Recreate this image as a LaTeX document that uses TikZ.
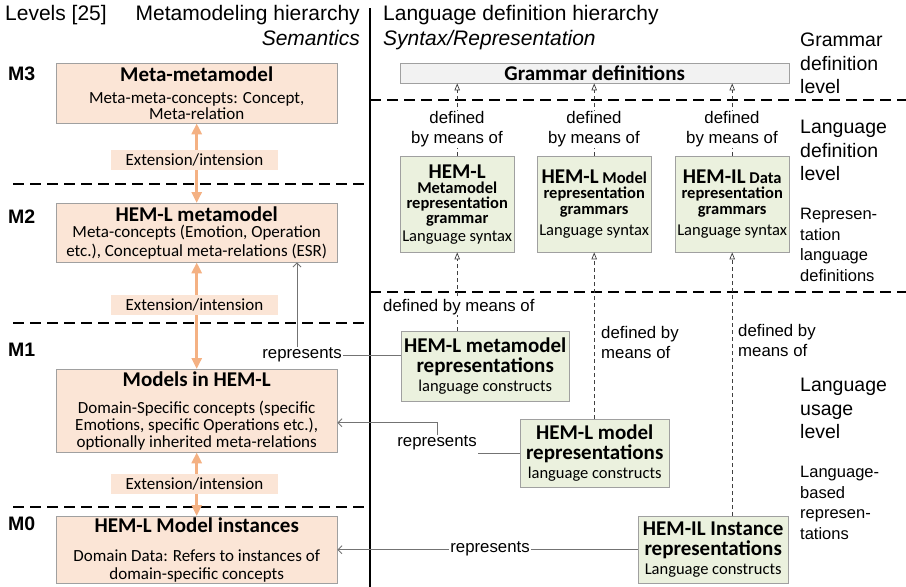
\documentclass[tikz,border=0pt]{standalone}
\usepackage{fontspec}
\setmainfont{Carlito}
\newfontfamily\arialf{Liberation Sans}
\usetikzlibrary{arrows.meta,calc}
\definecolor{orfill}{HTML}{FBE5D6}
\definecolor{orarrow}{HTML}{F4B183}
\definecolor{grfill}{HTML}{EBF1DE}
\definecolor{grayfill}{HTML}{F2F2F2}
\definecolor{bordc}{HTML}{A0A0A0}
\newcommand{\boxtitle}{\fontsize{21}{22}\selectfont\bfseries}
\begin{document}
\begin{tikzpicture}[x=1pt,y=-1pt,
  hd/.style={font=\arialf\fontsize{21}{25}\selectfont, inner sep=0pt},
  lvl/.style={font=\arialf\fontsize{19.5}{23.5}\selectfont, align=left, inner sep=0pt, anchor=north west},
  lvls/.style={font=\arialf\fontsize{16.5}{20.5}\selectfont, align=left, inner sep=0pt, anchor=north west},
  mlab/.style={font=\arialf\bfseries\fontsize{19.5}{20}\selectfont, inner sep=0pt, anchor=base west},
  obox/.style={draw=bordc, fill=orfill, anchor=north west, minimum width=281pt, align=center, inner sep=1pt, font=\fontsize{17}{16}\selectfont},
  gbox/.style={draw=bordc, fill=grfill, anchor=north west, minimum width=114pt, minimum height=96pt, align=center, inner sep=1pt, font=\fontsize{16.5}{15}\selectfont},
  rbox/.style={draw=bordc, fill=grfill, anchor=north west, align=center, inner sep=1pt, font=\fontsize{16.5}{19.5}\selectfont},
  lab/.style={font=\arialf\fontsize{16.8}{20}\selectfont, inner sep=1pt},
  ext/.style={fill=orfill, font=\fontsize{17}{18}\selectfont, minimum width=167pt, minimum height=20pt, inner sep=0pt},
  oarr/.style={draw=orarrow, line width=3pt, {Triangle[length=11pt,width=10pt]}-{Triangle[length=11pt,width=10pt]}},
  sepline/.style={line width=1.6pt, dash pattern=on 11pt off 6pt},
  darr/.style={draw=black!75, line width=0.7pt, dash pattern=on 4pt off 3pt, -{Triangle[open,length=7pt,width=5.5pt]}},
  rarr/.style={draw=black!55, line width=0.9pt, -{Straight Barb[length=4pt,width=8pt]}},
  rline/.style={draw=black!55, line width=0.9pt}
]
\useasboundingbox (0,0) rectangle (906,587);

% headings
\node[hd, anchor=base west] (hlev) at (5,20) {Levels [25]};
\node[hd, anchor=base east] (hmeta) at (360,20) {Metamodeling hierarchy};
\node[hd, anchor=base east] (hsem) at (360,45) {\itshape Semantics};
\node[hd, anchor=base west] (hlang) at (383,20) {Language definition hierarchy};
\node[hd, anchor=base west] (hsyn) at (383,45) {\itshape Syntax/Representation};

% separators
\draw[line width=1.5pt] (370,8) -- (370,587);
\draw[sepline] (13,184) -- (370,184);
\draw[sepline] (13,323) -- (370,323);
\draw[sepline] (13,507) -- (370,507);
\draw[sepline] (370,100) -- (906,100);
\draw[sepline] (370,292) -- (906,292);

% level labels
\node[mlab] (lm3) at (8,80) {M3};
\node[mlab] (lm2) at (8,223) {M2};
\node[mlab] (lm1) at (8,356) {M1};
\node[mlab] (lm0) at (8,530) {M0};

\node[lvl] (lgram) at (800,33) {Grammar\\definition\\level};
\node[lvl] (ldef) at (800,120) {Language\\definition\\level};
\node[lvls] (lrep) at (800,208) {Represen-\\tation\\language\\definitions};
\node[lvl] (luse) at (800,378) {Language\\usage\\level};
\node[lvls] (lbased) at (800,466) {Language-\\based\\represen-\\tations};

% left boxes
\node[obox, minimum height=60pt] (m3) at (56,63) {{\boxtitle Meta-metamodel}\\[6pt] Meta-meta-concepts: Concept,\\ Meta-relation};
\node[obox, minimum height=59pt] (m2) at (56,203) {{\boxtitle HEM-L metamodel}\\ Meta-concepts (Emotion, Operation\\[3pt] etc.), Conceptual meta-relations (ESR)};
\node[obox, minimum height=83pt, font=\fontsize{17}{17}\selectfont] (models) at (56,369) {{\boxtitle Models in HEM-L}\\[10pt] Domain-Specific concepts (specific\\ Emotions, specific Operations etc.),\\ optionally inherited meta-relations};
\node[obox, minimum height=67pt, font=\fontsize{17}{17.5}\selectfont] (inst) at (56,516) {{\boxtitle HEM-L Model instances}\\[12pt] Domain Data: Refers to instances of\\ domain-specific concepts};

% orange arrows and labels
\draw[oarr] (m3.south) -- (m2.north);
\draw[oarr] (m2.south) -- (models.north);
\draw[oarr] (models.south) -- (inst.north);
\node[ext] (e1) at (194.5,160) {Extension/intension};
\node[ext] (e2) at (194.5,304.5) {Extension/intension};
\node[ext] (e3) at (194.5,483.5) {Extension/intension};

% grammar definitions
\node[draw=bordc, fill=grayfill, anchor=north west, minimum width=389pt, minimum height=20pt, inner sep=0pt, font=\boxtitle] (gram) at (400,63) {Grammar definitions};

% grammar boxes
\node[gbox] (g1) at (400,156) {{\fontsize{21}{22}\selectfont\bfseries HEM-L}\\ \textbf{Metamodel}\\ \textbf{representation}\\ \textbf{grammar}\\[3pt] Language syntax};
\node[gbox, font=\fontsize{16.5}{15.5}\selectfont] (g2) at (537,156) {{\bfseries{\fontsize{21}{22}\selectfont HEM-L} Model}\\ \textbf{representation}\\ \textbf{grammars}\\[6pt] Language syntax};
\node[gbox, font=\fontsize{16.5}{15.5}\selectfont] (g3) at (675,156) {{\bfseries{\fontsize{21}{22}\selectfont HEM-IL} Data}\\ \textbf{representation}\\ \textbf{grammars}\\[6pt] Language syntax};

% representation boxes
\node[rbox, minimum width=168pt, minimum height=70pt] (rep1) at (401,331) {{\boxtitle HEM-L metamodel}\\ {\boxtitle representations}\\ language constructs};
\node[rbox, minimum width=149pt, minimum height=68pt] (rep2) at (520,419) {{\boxtitle HEM-L model}\\ {\boxtitle representations}\\ language constructs};
\node[rbox, minimum width=150pt, minimum height=67pt] (rep3) at (638,516) {{\boxtitle HEM-IL Instance}\\ {\boxtitle representations}\\ Language constructs};

% defined by means of (upper)
\draw[darr] (g1.north) -- (g1.north |- gram.south);
\draw[darr] (g2.north) -- (g2.north |- gram.south);
\draw[darr] (g3.north) -- (g3.north |- gram.south);
\node[lab, fill=white, align=center] (d1) at (457,129.5) {defined\\by means of};
\node[lab, fill=white, align=center] (d2) at (594,129.5) {defined\\by means of};
\node[lab, fill=white, align=center] (d3) at (732,129.5) {defined\\by means of};

% defined by means of (lower)
\draw[darr] (g1.south |- rep1.north) -- (g1.south);
\draw[darr] (g2.south |- rep2.north) -- (g2.south);
\draw[darr] (g3.south |- rep3.north) -- (g3.south);
\node[lab, fill=white, anchor=base west] (d4) at (382,311) {defined by means of};
\node[lab, anchor=north west, align=left, inner sep=0pt] (d5) at (601,326) {defined by\\means of};
\node[lab, anchor=north west, align=left, inner sep=0pt] (d6) at (738,324) {defined by\\means of};

% represents
\node[lab] (rp1) at (302,355) {represents};
\draw[rline] (rep1.west |- rp1.east) -- (rp1.east);
\draw[rarr] ([xshift=-5pt]rp1.north) -- ([xshift=-5pt]rp1.north |- m2.south);

\node[lab] (rp2) at (437,443) {represents};
\draw[rline] (rep2.west) -- (rep2.west -| rp2.east);
\draw[rarr] (rp2.north) |- ([yshift=-12pt]models.east);

\draw[rarr] (rep3.west) -- (inst.east);
\node[lab, fill=white] (rp3) at (490,549) {represents};
\end{tikzpicture}
\end{document}
